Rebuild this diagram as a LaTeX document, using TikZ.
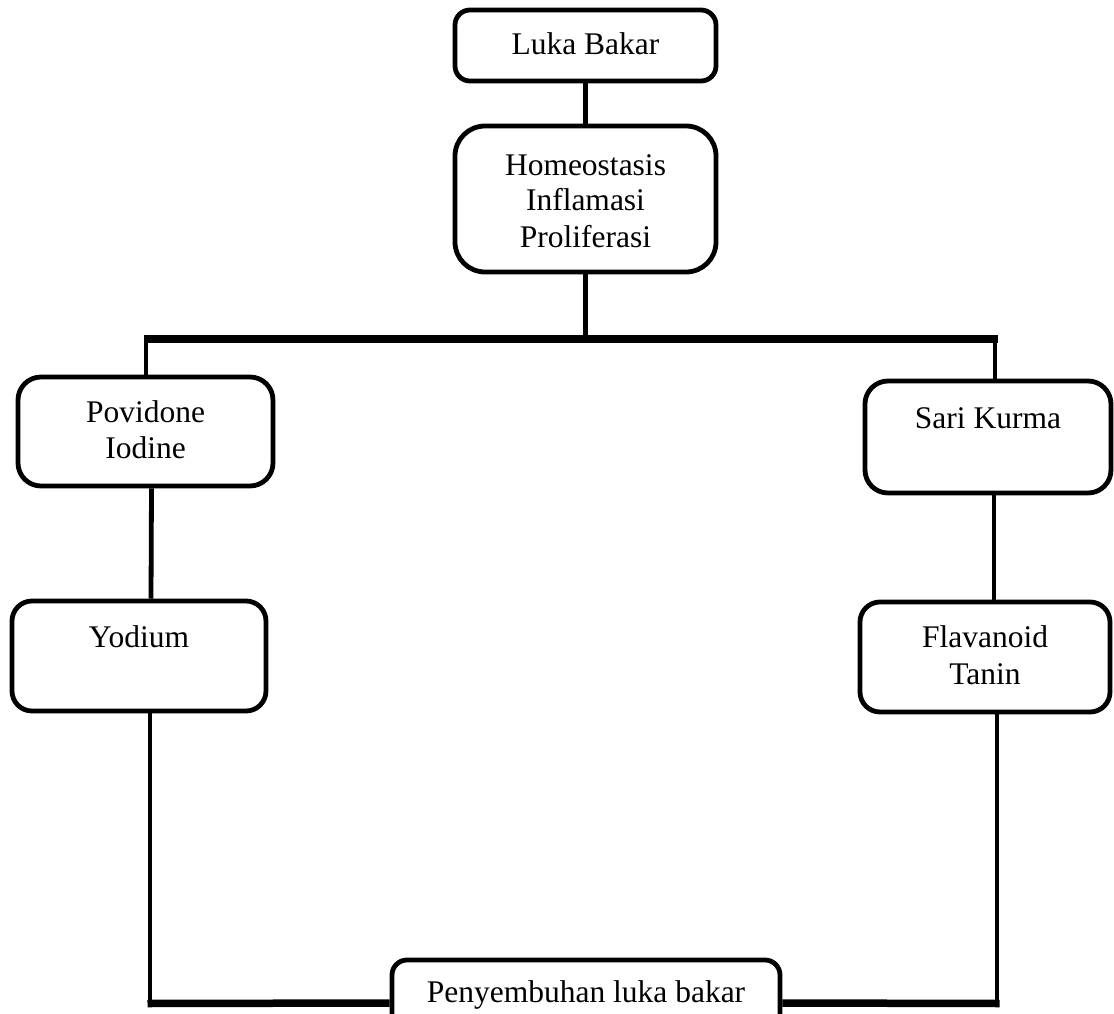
\documentclass[tikz,border=0pt]{standalone}
\usepackage{fontspec}
\setmainfont{Liberation Serif}
\begin{document}
\begin{tikzpicture}[x=1pt,y=-1pt,
  box/.style={draw=black,line width=4.8pt,rounded corners=20pt,inner sep=0pt,
    align=center,font=\fontsize{31.5}{36}\selectfont},
  oneline/.style={text height=24pt,text depth=5pt},
  topline/.style={text height=24pt,text depth=42pt},
  twoline/.style={text height=59pt,text depth=5pt},
  threeline/.style={text height=101pt,text depth=5pt},
  conn/.style={line width=4.8pt},
  bus/.style={line width=7.5pt}]
\useasboundingbox (0,0) rectangle (1114,1014);
\node[box,oneline,rounded corners=15pt,minimum width=261pt,minimum height=71pt] (luka) at (585.5,45.5) {Luka Bakar};
\node[box,threeline,rounded corners=30pt,minimum width=261pt,minimum height=146pt] (homeo) at (585.5,199) {Homeostasis\\Inflamasi\\Proliferasi};
\node[box,text height=58pt,text depth=5pt,rounded corners=23pt,minimum width=255pt,minimum height=109pt] (pov) at (145.5,431.5) {Povidone\\Iodine};
\node[box,topline,minimum width=254pt,minimum height=110pt] (yod) at (139,656) {Yodium};
\node[box,topline,rounded corners=23pt,minimum width=246pt,minimum height=112pt] (sari) at (988,437) {Sari Kurma};
\node[box,text height=60pt,text depth=5pt,minimum width=250pt,minimum height=110pt] (flav) at (985,657) {Flavanoid\\[1pt]Tanin};
\node[box,text height=24pt,text depth=26pt,rounded corners=15pt,minimum width=388pt,minimum height=86pt] (pen) at (586,1003) {Penyembuhan luka bakar};
\coordinate (busL) at (146,339);
\coordinate (busR) at (995,339);
\coordinate (bl) at (150,1003.5);
\coordinate (br) at (997,1003.5);
\draw[conn] (luka.south) -- (homeo.north);
\draw[conn] (homeo.south) -- (homeo.south |- busL);
\draw[bus] ([xshift=-2.5pt]busL) -- ([xshift=2.5pt]busR);
\draw[conn] ([yshift=-3pt]busL) -- (busL |- pov.north);
\draw[conn] ([yshift=-3pt]busR) -- (busR |- sari.north);
\draw[conn] ([xshift=6pt]pov.south) -- ([xshift=12pt]yod.north);
\draw[conn] ([xshift=6pt]sari.south) -- ([xshift=9pt]flav.north);
\draw[conn] ([xshift=11pt]yod.south) -- ([yshift=3pt]bl);
\draw[conn] ([xshift=12pt]flav.south) -- ([yshift=3pt]br);
\draw[bus] ([xshift=-2.5pt]bl) -- (pen.west);
\draw[bus] (pen.east) -- ([xshift=2.5pt]br);
\end{tikzpicture}
\end{document}
